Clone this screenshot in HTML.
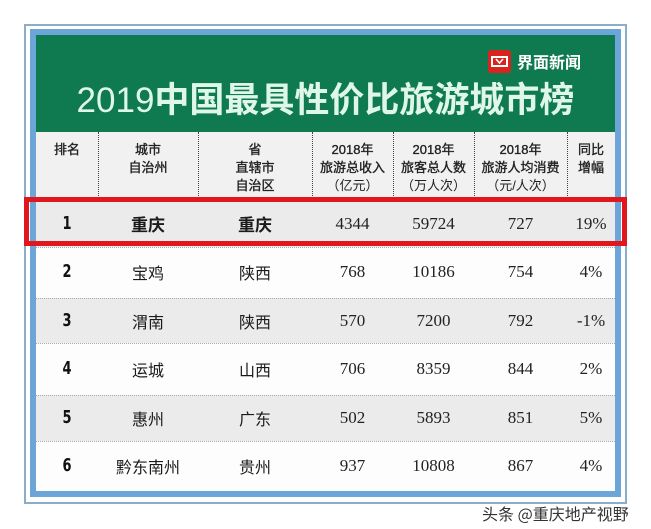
<!DOCTYPE html>
<html><head><meta charset="utf-8"><style>
html,body{margin:0;padding:0;}
body{width:651px;height:529px;background:#fff;position:relative;overflow:hidden;font-family:"Liberation Sans","Noto Sans CJK SC",sans-serif;}
.abs{position:absolute;}
.outer{left:24px;top:24px;width:603px;height:480px;border:2px solid #8aaec8;box-sizing:border-box;}
.blue{left:30px;top:29px;width:591px;height:468px;border:6px solid #6ca6d9;box-sizing:border-box;}
.green{left:36px;top:35px;width:579px;height:97px;background:#0f7a50;}
.hdr{left:36px;top:132px;width:579px;height:66px;background:#f1f1f1;}
.row{left:36px;width:579px;}
.g{background:#ebebeb;}
.w{background:#fdfdfd;}
.sep{left:36px;width:579px;height:0;border-top:1px dotted #aaa;}
.vsep{top:132px;height:66px;width:0;border-left:1px dotted #444;}
.title{left:36px;width:579px;top:79px;text-align:center;font-size:35px;line-height:44px;color:#dff7ea;font-family:"Liberation Sans","Noto Sans CJK SC",sans-serif;font-weight:bold;white-space:nowrap;}
.title .d{font-weight:normal;}
.logo{left:488px;top:50px;width:23px;height:23px;background:#d9231d;border-radius:3px;}
.logotxt{left:517px;top:50px;font-size:16px;line-height:22px;color:#fff;font-weight:bold;font-family:"Noto Sans CJK SC",sans-serif;}
.h{font-size:13px;line-height:18px;color:#222;text-align:center;font-weight:normal;-webkit-text-stroke:0.35px #222;font-family:"Liberation Sans","Noto Sans CJK SC",sans-serif;white-space:nowrap;}
.c{text-align:center;white-space:nowrap;color:#222;}
.rk{font-family:"DejaVu Sans",sans-serif;font-weight:bold;font-size:18px;color:#111;transform:scaleX(0.72);}
.cj{font-size:16px;font-family:"Noto Sans CJK SC",sans-serif;color:#1a1a1a;}
.num{font-size:17px;font-family:"Liberation Serif","DejaVu Serif",serif;color:#222;}
.red{left:24px;top:197px;width:603px;height:49px;border:5px solid #e0171d;box-sizing:border-box;}
.wm{left:482px;top:503px;font-size:16px;line-height:20px;color:#333;font-family:"Noto Sans CJK SC",sans-serif;text-shadow:0 0 2px #fff,1px 1px 0 #fff,-1px -1px 0 #fff;white-space:nowrap;}
</style></head><body>
<div class="abs outer"></div>
<div class="abs blue"></div>
<div class="abs green"></div>
<div class="abs logo"><svg width="23" height="23" viewBox="0 0 23 23"><rect x="4" y="7" width="15" height="9" fill="none" stroke="#fff" stroke-width="2"/><path d="M8 9 L11.5 13 L15 9" fill="none" stroke="#fff" stroke-width="1.6"/></svg></div>
<div class="abs logotxt">界面新闻</div>
<div class="abs title"><span class="d">2019</span>中国最具性价比旅游城市榜</div>

<div class="abs hdr"></div>
<div class="abs vsep" style="left:98px"></div>
<div class="abs vsep" style="left:198px"></div>
<div class="abs vsep" style="left:312px"></div>
<div class="abs vsep" style="left:393px"></div>
<div class="abs vsep" style="left:474px"></div>
<div class="abs vsep" style="left:567px"></div>

<div class="abs h" style="left:36px;width:62px;top:141px">排名</div>
<div class="abs h" style="left:98px;width:100px;top:141px">城市<br>自治州</div>
<div class="abs h" style="left:198px;width:114px;top:141px">省<br>直辖市<br>自治区</div>
<div class="abs h" style="left:312px;width:81px;top:141px">2018年<br>旅游总收入<br><span style="-webkit-text-stroke:0">（亿元）</span></div>
<div class="abs h" style="left:393px;width:81px;top:141px">2018年<br>旅客总人数<br><span style="-webkit-text-stroke:0">（万人次）</span></div>
<div class="abs h" style="left:474px;width:93px;top:141px">2018年<br>旅游人均消费<br><span style="-webkit-text-stroke:0">（元/人次）</span></div>
<div class="abs h" style="left:567px;width:48px;top:141px">同比<br>增幅</div>

<div class="abs row g" style="top:199px;height:48px"></div>
<div class="abs row w" style="top:247px;height:51px"></div>
<div class="abs row g" style="top:298px;height:45px"></div>
<div class="abs row w" style="top:343px;height:52px"></div>
<div class="abs row g" style="top:395px;height:46px"></div>
<div class="abs row w" style="top:441px;height:50px"></div>

<div class="abs sep" style="top:199px"></div>
<div class="abs sep" style="top:247px"></div>
<div class="abs sep" style="top:298px"></div>
<div class="abs sep" style="top:343px"></div>
<div class="abs sep" style="top:395px"></div>
<div class="abs sep" style="top:441px"></div>

<!-- rows -->
<div class="abs c rk" style="left:36px;width:62px;top:212px;line-height:24px">1</div>
<div class="abs c cj" style="left:98px;width:100px;top:212px;line-height:24px;font-weight:bold;font-size:17px">重庆</div>
<div class="abs c cj" style="left:198px;width:114px;top:212px;line-height:24px;font-weight:bold;font-size:17px">重庆</div>
<div class="abs c num" style="left:312px;width:81px;top:212px;line-height:24px">4344</div>
<div class="abs c num" style="left:393px;width:81px;top:212px;line-height:24px">59724</div>
<div class="abs c num" style="left:474px;width:93px;top:212px;line-height:24px">727</div>
<div class="abs c num" style="left:567px;width:48px;top:212px;line-height:24px">19%</div>

<div class="abs c rk" style="left:36px;width:62px;top:260px;line-height:24px">2</div>
<div class="abs c cj" style="left:98px;width:100px;top:260px;line-height:24px">宝鸡</div>
<div class="abs c cj" style="left:198px;width:114px;top:260px;line-height:24px">陕西</div>
<div class="abs c num" style="left:312px;width:81px;top:260px;line-height:24px">768</div>
<div class="abs c num" style="left:393px;width:81px;top:260px;line-height:24px">10186</div>
<div class="abs c num" style="left:474px;width:93px;top:260px;line-height:24px">754</div>
<div class="abs c num" style="left:567px;width:48px;top:260px;line-height:24px">4%</div>

<div class="abs c rk" style="left:36px;width:62px;top:309px;line-height:24px">3</div>
<div class="abs c cj" style="left:98px;width:100px;top:309px;line-height:24px">渭南</div>
<div class="abs c cj" style="left:198px;width:114px;top:309px;line-height:24px">陕西</div>
<div class="abs c num" style="left:312px;width:81px;top:309px;line-height:24px">570</div>
<div class="abs c num" style="left:393px;width:81px;top:309px;line-height:24px">7200</div>
<div class="abs c num" style="left:474px;width:93px;top:309px;line-height:24px">792</div>
<div class="abs c num" style="left:567px;width:48px;top:309px;line-height:24px">-1%</div>

<div class="abs c rk" style="left:36px;width:62px;top:357px;line-height:24px">4</div>
<div class="abs c cj" style="left:98px;width:100px;top:357px;line-height:24px">运城</div>
<div class="abs c cj" style="left:198px;width:114px;top:357px;line-height:24px">山西</div>
<div class="abs c num" style="left:312px;width:81px;top:357px;line-height:24px">706</div>
<div class="abs c num" style="left:393px;width:81px;top:357px;line-height:24px">8359</div>
<div class="abs c num" style="left:474px;width:93px;top:357px;line-height:24px">844</div>
<div class="abs c num" style="left:567px;width:48px;top:357px;line-height:24px">2%</div>

<div class="abs c rk" style="left:36px;width:62px;top:406px;line-height:24px">5</div>
<div class="abs c cj" style="left:98px;width:100px;top:406px;line-height:24px">惠州</div>
<div class="abs c cj" style="left:198px;width:114px;top:406px;line-height:24px">广东</div>
<div class="abs c num" style="left:312px;width:81px;top:406px;line-height:24px">502</div>
<div class="abs c num" style="left:393px;width:81px;top:406px;line-height:24px">5893</div>
<div class="abs c num" style="left:474px;width:93px;top:406px;line-height:24px">851</div>
<div class="abs c num" style="left:567px;width:48px;top:406px;line-height:24px">5%</div>

<div class="abs c rk" style="left:36px;width:62px;top:454px;line-height:24px">6</div>
<div class="abs c cj" style="left:98px;width:100px;top:454px;line-height:24px">黔东南州</div>
<div class="abs c cj" style="left:198px;width:114px;top:454px;line-height:24px">贵州</div>
<div class="abs c num" style="left:312px;width:81px;top:454px;line-height:24px">937</div>
<div class="abs c num" style="left:393px;width:81px;top:454px;line-height:24px">10808</div>
<div class="abs c num" style="left:474px;width:93px;top:454px;line-height:24px">867</div>
<div class="abs c num" style="left:567px;width:48px;top:454px;line-height:24px">4%</div>

<div class="abs red"></div>
<div class="abs wm">头条 @重庆地产视野</div>
</body></html>
